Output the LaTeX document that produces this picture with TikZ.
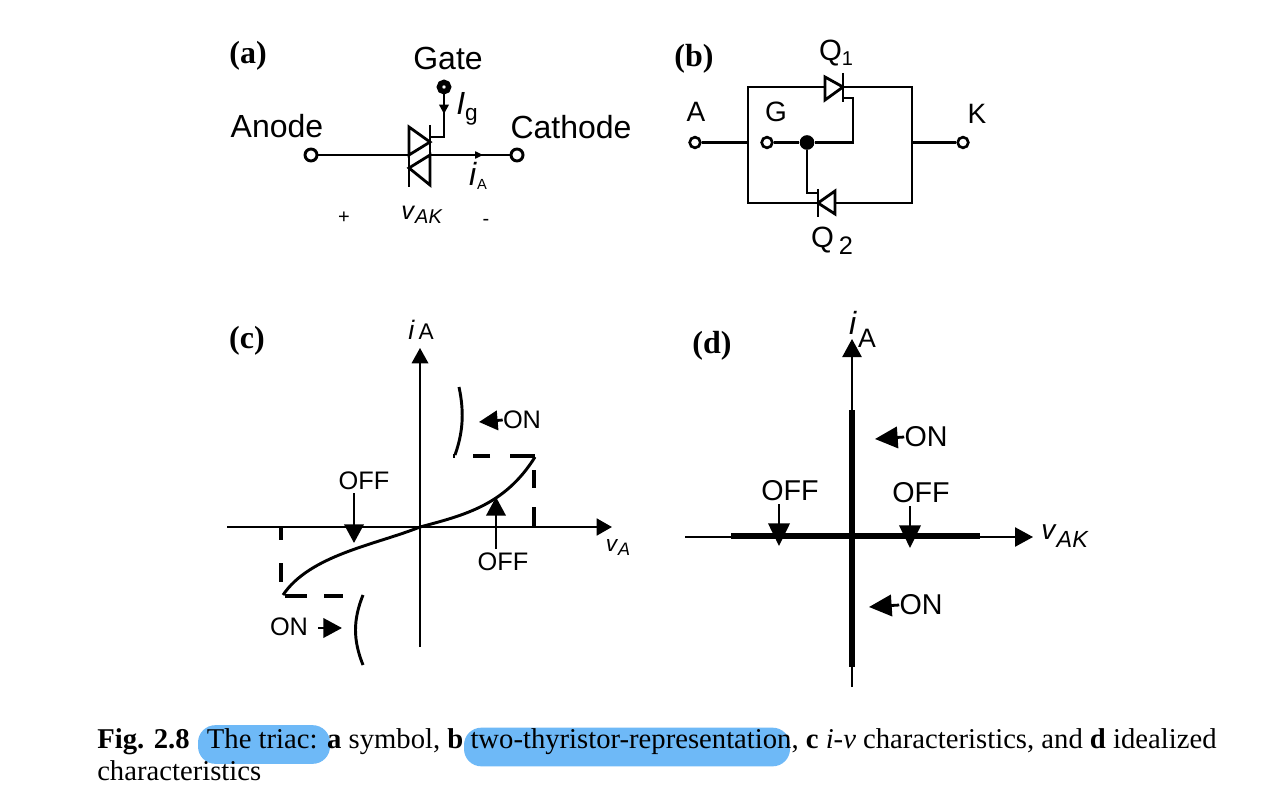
\documentclass[tikz,border=0pt]{standalone}
\usepackage{fontspec}
\setmainfont{Liberation Sans}
\newfontfamily\capfont{Liberation Serif}
\usetikzlibrary{positioning,arrows.meta,calc}
\definecolor{marker}{RGB}{110,185,247}
\newcommand{\fsz}[1]{\fontsize{#1}{#1}\selectfont}
\newcommand{\sublabel}[4]{\textit{#1}\raisebox{#3}{\fsz{#4}#2}}

\begin{document}
\begin{tikzpicture}[
  x=0.75pt, y=-0.75pt, >=Latex,
  wire/.style={line width=2.1pt},
  thinaxis/.style={line width=1pt},
  midaxis/.style={line width=2.1pt},
  fatline/.style={line width=5pt},
  dashline/.style={line width=2.4pt},
  curve/.style={line width=2.2pt},
  terminal/.style={draw, circle, fill=white, line width=2.2pt, minimum size=9pt, inner sep=0pt},
  terminalb/.style={terminal, line width=2pt, minimum size=8pt},
  gatedot/.style={draw, circle, fill=white, line width=4pt, minimum size=7pt, inner sep=0pt},
  junction/.style={circle, fill=black, minimum size=11pt, inner sep=0pt},
  tagl/.style={font=\capfont\bfseries\fsz{24}, inner sep=0pt},
  bigl/.style={font=\fsz{24}, inner sep=0pt},
  midl/.style={font=\fsz{21}, inner sep=0pt},
  axl/.style={font=\fsz{19}, inner sep=0pt},
  dl/.style={font=\fsz{21.5}, inner sep=0pt},
  captxt/.style={font=\capfont\fsz{21.5}, inner sep=0pt, anchor=base west},
  hilite/.style={fill=marker, rounded corners=13pt, minimum height=29pt, inner sep=0pt},
  smallarrow/.style={-{Triangle[length=7pt,width=7pt]}, line width=2.1pt},
  headc/.style={-{Triangle[length=14pt,width=14.5pt]}, line width=2.1pt},
  headd/.style={-{Triangle[length=17pt,width=16pt]}, line width=2.1pt},
  axhead/.style={-{Triangle[length=11.5pt,width=12.5pt]}},
  axheadd/.style={-{Triangle[length=13.5pt,width=14.5pt]}},
]
  \useasboundingbox (0,0) rectangle (1280,791);

  % (a)
  \node[tagl] (taga) at (248,56) {(a)};
  \node[bigl] (gatel) at (448,58) {Gate};
  \node[bigl] (anodel) at (277,126) {Anode};
  \node[bigl] (cathl) at (571,127) {Cathode};
  \node[terminal] (anode) at (311,155) {};
  \node[terminal] (cath) at (517,155) {};
  \node[gatedot] (gate) at (444,87) {};
  \coordinate (tl) at (409,155);
  \coordinate (tr) at (430,155);
  \draw[wire] (anode) -- (tl);
  \draw[wire] (tr) -- (cath);
  \draw[wire] (409,127) -- (430,142) -- (tl) -- cycle;
  \draw[wire] (tr) -- (409,168) -- (430,185) -- cycle;
  \draw[wire] (409,127) -- (409,187);
  \draw[wire] (430,125) -- (430,185);
  \draw[wire] (gate) |- (430,137);
  \draw[smallarrow] (444,100) -- (444,114);
  \draw[-{Triangle[length=6pt,width=5.5pt]}, line width=1pt] (470,155) -- (483,155);
  \node[font=\fsz{24}, inner sep=0pt] (ig) at (467,109) {\sublabel{I}{g}{-5pt}{17}};
  \node[font=\fsz{24}, inner sep=0pt] (ia) at (478,176) {\sublabel{i}{A}{-3pt}{11}};
  \node[font=\fsz{19}, inner sep=0pt] (vak) at (422,215) {\sublabel{v}{\textit{AK}}{-3pt}{15}};
  \node[font=\fsz{15}, inner sep=0pt] (plus) at (344,218) {+};
  \node[font=\fsz{15}, inner sep=0pt] (minus) at (486,222) {-};

  % (b)
  \node[tagl] (tagb) at (694,59) {(b)};
  \coordinate (ul) at (748,87);
  \coordinate (ur) at (912,87);
  \coordinate (ll) at (748,203);
  \coordinate (lr) at (912,203);
  \node[terminalb] (ta) at (695,142.5) {};
  \node[terminalb] (tg) at (767,142.5) {};
  \node[terminalb] (tk) at (963,142.5) {};
  \node[junction] (jn) at (807,142.5) {};
  \draw[wire] (ta) -- (ta -| ul);
  \draw[wire] (tk -| ur) -- (tk);
  \draw[wire] (825,87) -- (ul) -- (ll) -- (818,203);
  \draw[wire] (843,87) -- (ur) -- (lr) -- (835,203);
  \draw[wire] (825,77) -- (825,100) -- (843,87) -- cycle;
  \draw[wire] (843,73) -- (843,102);
  \draw[wire] (835,191) -- (835,214) -- (818,203) -- cycle;
  \draw[wire] (818,189) -- (818,217);
  \draw[wire] (tg) -- (jn);
  \draw[wire] (jn) -- (853,142.5) -- (853,98) -- (843,98);
  \draw[wire] (jn) -- (807,193) -- (818,193);
  \node[midl] (al) at (696,112) {A};
  \node[midl] (gl) at (776,112) {G};
  \node[midl] (kl) at (977,114) {K};
  \node[font=\fsz{22}, inner sep=0pt] (q1) at (836,53) {Q\raisebox{-4pt}{\fsz{15}1}};
  \node[font=\fsz{22}, inner sep=0pt] (q2) at (832,241) {Q\,\raisebox{-5pt}{\fsz{19}2}};

  % (c)
  \node[tagl] (tagc) at (247,341) {(c)};
  \coordinate (co) at (420,527);
  \draw[thinaxis, axhead] (420,647) -- (420,348);
  \draw[midaxis, axhead] (227,527) -- (612,527);
  \draw[curve] (283,595) .. controls (310,555) and (375,545) .. (co)
    .. controls (465,515) and (505,505) .. (535,457);
  \draw[dashline] (535,456) -- (510,456) (490,456) -- (473,456) (455,456) -- (453,456);
  \draw[dashline] (534,470) -- (534,488) (534,507) -- (534,527);
  \draw[dashline] (281,528) -- (281,540) (281,563) -- (281,582);
  \draw[dashline] (285,596) -- (307,596) (324,596) -- (343,596);
  \draw[curve] (459,387) .. controls (465,415) and (462,435) .. (455,455);
  \draw[curve] (363,595) .. controls (353,620) and (353,640) .. (363,665);
  \node[axl] (onc1) at (522,420) {ON};
  \node[axl] (onc2) at (289,627) {ON};
  \node[axl] (offc1) at (364,481) {OFF};
  \node[axl] (offc2) at (503,562) {OFF};
  \draw[headc] (onc1.west) -- (479,422);
  \draw[headc] (318,628) -- (342,628);
  \draw[headc] (354,493) -- (354,543);
  \draw[headc] (496,549) -- (496,497);
  \node[font=\fsz{20}, inner sep=0pt] (iac) at (421,330) {\sublabel{i\,}{A}{0pt}{17}};
  \node[font=\fsz{17}, inner sep=0pt] (vac) at (618,548) {\sublabel{v}{\textit{A}}{-3pt}{13.5}};

  % (d)
  \node[tagl] (tagd) at (712,346) {(d)};
  \draw[thinaxis, axheadd] (852,687) -- (852,339);
  \draw[thinaxis, axheadd] (685,537) -- (1033,537);
  \draw[fatline] (852,410) -- (852,667);
  \draw[fatline] (731,536) -- (980,536);
  \node[dl] (ond1) at (926,437) {ON};
  \node[dl] (ond2) at (921,605) {ON};
  \node[dl] (offd1) at (790,491) {OFF};
  \node[dl] (offd2) at (921,493) {OFF};
  \draw[headd] (ond1.west) -- (875,439);
  \draw[headd] (ond2.west) -- (869,607);
  \draw[headd] (779,504) -- (779,546);
  \draw[headd] (910,506) -- (910,548);
  \node[font=\fsz{24}, inner sep=0pt] (iad) at (853,323) {\textit{i}};
  \node[font=\fsz{20}, inner sep=0pt] (ad) at (867,338) {A};
  \node[font=\fsz{21}, inner sep=0pt] (vakd) at (1065,536) {\sublabel{v}{\textit{AK}}{-6pt}{17.5}};

  % caption
  \node[hilite, minimum width=99pt] (mk1) at (264,744.5) {};
  \node[hilite, minimum width=244.5pt] (mk2) at (627,747) {};
  \node[captxt] (cap1) at (97,748) {\textbf{Fig. 2.8}\hspace{13pt}The triac: \textbf{a} symbol, \textbf{b} two-thyristor-representation, \textbf{c} \textit{i-v} characteristics, and \textbf{d} idealized};
  \node[captxt] (cap2) at (97,780) {characteristics};
\end{tikzpicture}
\end{document}
